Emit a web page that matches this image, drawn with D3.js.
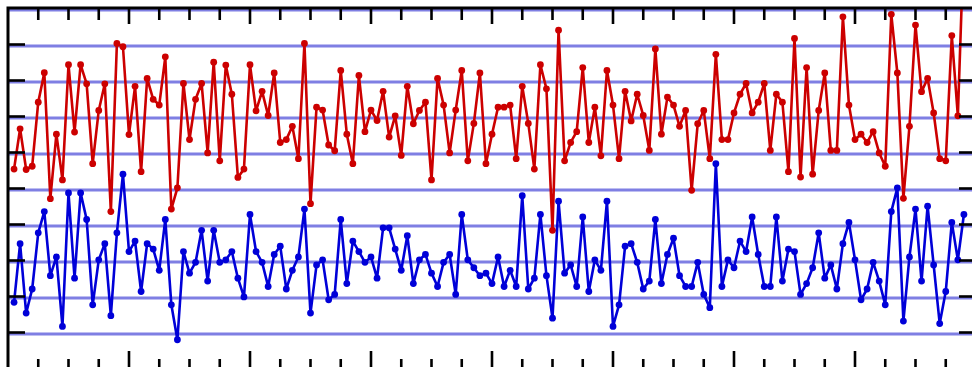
<!DOCTYPE html>
<html>
<head>
<meta charset="utf-8">
<script src="https://cdn.jsdelivr.net/npm/d3@7"></script>
<style>
  html, body { margin: 0; padding: 0; background: #fff; overflow: hidden; }
  svg { display: block; }
</style>
</head>
<body>
<div id="chart"></div>
<script>
// Two series, one point per step (1..158)
const redValues = [
  5.58, 6.70, 5.57, 5.66, 7.44, 8.26, 4.76, 6.55, 5.28, 8.48,
  6.61, 8.48, 7.95, 5.73, 7.21, 7.95, 4.40, 9.07, 8.98, 6.54,
  7.88, 5.51, 8.10, 7.52, 7.36, 8.70, 4.47, 5.06, 7.96, 6.40,
  7.52, 7.96, 6.03, 8.55, 5.81, 8.47, 7.66, 5.35, 5.58, 8.48,
  7.20, 7.74, 7.07, 8.25, 6.32, 6.40, 6.77, 5.87, 9.07, 4.62,
  7.30, 7.22, 6.25, 6.09, 8.32, 6.55, 5.73, 8.18, 6.62, 7.22,
  6.93, 7.74, 6.47, 7.06, 5.96, 7.88, 6.84, 7.21, 7.44, 5.28,
  8.10, 7.36, 6.03, 7.22, 8.32, 5.81, 6.85, 8.25, 5.73, 6.55,
  7.30, 7.30, 7.36, 5.87, 7.88, 6.85, 5.58, 8.48, 7.81, 3.88,
  9.44, 5.81, 6.32, 6.62, 8.40, 6.32, 7.30, 5.95, 8.32, 7.36,
  5.87, 7.74, 6.92, 7.66, 7.07, 6.10, 8.92, 6.55, 7.58, 7.36,
  6.77, 7.21, 4.99, 6.84, 7.21, 5.87, 8.77, 6.40, 6.40, 7.14,
  7.66, 7.96, 7.14, 7.44, 7.96, 6.10, 7.66, 7.44, 5.51, 9.21,
  5.36, 8.40, 5.44, 7.21, 8.25, 6.10, 6.10, 9.81, 7.36, 6.40,
  6.55, 6.32, 6.62, 6.03, 5.66, 9.88, 8.25, 4.77, 6.77, 9.58,
  7.73, 8.10, 7.14, 5.87, 5.81, 9.29, 7.06, 12.0
];

const blueValues = [
  1.88, 3.51, 1.58, 2.25, 3.81, 4.40, 2.62, 3.14, 1.21, 4.92,
  2.55, 4.92, 4.18, 1.81, 3.06, 3.51, 1.51, 3.81, 5.44, 3.29,
  3.58, 2.18, 3.51, 3.36, 2.77, 4.18, 1.81, 0.84, 3.29, 2.69,
  2.99, 3.88, 2.47, 3.88, 2.99, 3.06, 3.29, 2.55, 2.03, 4.32,
  3.29, 2.99, 2.32, 3.21, 3.44, 2.25, 2.77, 3.14, 4.47, 1.58,
  2.92, 3.06, 1.95, 2.10, 4.18, 2.40, 3.58, 3.29, 2.99, 3.14,
  2.55, 3.95, 3.95, 3.36, 2.77, 3.73, 2.40, 3.06, 3.21, 2.69,
  2.32, 2.99, 3.21, 2.10, 4.32, 3.06, 2.84, 2.62, 2.69, 2.40,
  3.14, 2.32, 2.77, 2.32, 4.84, 2.25, 2.55, 4.32, 2.62, 1.44,
  4.69, 2.69, 2.92, 2.32, 4.25, 2.18, 3.06, 2.77, 4.69, 1.21,
  1.81, 3.44, 3.51, 2.99, 2.25, 2.47, 4.18, 2.40, 3.21, 3.66,
  2.62, 2.32, 2.32, 2.99, 2.10, 1.73, 5.73, 2.32, 3.06, 2.84,
  3.58, 3.29, 4.25, 3.21, 2.32, 2.32, 4.25, 2.47, 3.36, 3.29,
  2.10, 2.40, 2.84, 3.81, 2.55, 2.92, 2.25, 3.51, 4.10, 3.06,
  1.95, 2.25, 2.99, 2.47, 1.81, 4.40, 5.06, 1.36, 3.14, 4.47,
  2.47, 4.55, 2.92, 1.29, 2.18, 4.10, 3.06, 4.32
];

const xDomain = [0, 160];
const yDomain = [0, 10];
const yGridValues = d3.range(0, 11, 1);
const xMajorTicks = d3.range(0, 161, 20);
const xMinorTicks = d3.range(0, 161, 5);

const width = 972;
const height = 367;
const plot = { left: 8, top: 8, right: 976, bottom: 369 };

const gridColor = '#7f7fe3';
const redColor = '#cc0000';
const blueColor = '#0000d8';

const svg = d3.select('#chart')
  .append('svg')
  .attr('width', width)
  .attr('height', height);

const x = d3.scaleLinear().domain(xDomain).range([plot.left, plot.right]);
const y = d3.scaleLinear().domain(yDomain).range([370, 10]);

svg.append('clipPath')
  .attr('id', 'plot-clip')
  .append('rect')
  .attr('x', plot.left)
  .attr('y', plot.top)
  .attr('width', plot.right - plot.left)
  .attr('height', plot.bottom - plot.top);

// Horizontal grid
svg.append('g')
  .selectAll('line')
  .data(yGridValues)
  .join('line')
  .attr('x1', plot.left)
  .attr('x2', plot.right)
  .attr('y1', d => y(d))
  .attr('y2', d => y(d))
  .attr('stroke', gridColor)
  .attr('stroke-width', 3);

// Series
const series = [
  { values: redValues, color: redColor },
  { values: blueValues, color: blueColor }
];

const line = d3.line()
  .x((d, i) => x(i + 1))
  .y(d => y(d));

const marks = svg.append('g').attr('clip-path', 'url(#plot-clip)');

series.forEach(s => {
  marks.append('path')
    .datum(s.values)
    .attr('fill', 'none')
    .attr('stroke', s.color)
    .attr('stroke-width', 2.6)
    .attr('stroke-linejoin', 'round')
    .attr('d', line);

  marks.append('g')
    .selectAll('circle')
    .data(s.values)
    .join('circle')
    .attr('cx', (d, i) => x(i + 1))
    .attr('cy', d => y(d))
    .attr('r', 3.4)
    .attr('fill', s.color);
});

// Ticks: left/right on every grid value, top/bottom minor + major
const ticks = svg.append('g')
  .attr('stroke', '#000')
  .attr('stroke-width', 2.6);

ticks.selectAll('.ytick-l')
  .data(yGridValues.slice(1, -1))
  .join('line')
  .attr('x1', plot.left)
  .attr('x2', plot.left + 17)
  .attr('y1', d => y(d) - 1.5)
  .attr('y2', d => y(d) - 1.5);

ticks.selectAll('.ytick-r')
  .data(yGridValues.slice(1, -1))
  .join('line')
  .attr('x1', plot.right - 17)
  .attr('x2', plot.right)
  .attr('y1', d => y(d) - 1.5)
  .attr('y2', d => y(d) - 1.5);

ticks.selectAll('.xtick-t')
  .data(xMinorTicks.slice(1, -1))
  .join('line')
  .attr('x1', d => x(d))
  .attr('x2', d => x(d))
  .attr('y1', plot.top)
  .attr('y2', d => plot.top + (d % 20 === 0 ? 16 : 12));

ticks.selectAll('.xtick-b')
  .data(xMinorTicks.slice(1, -1))
  .join('line')
  .attr('x1', d => x(d))
  .attr('x2', d => x(d))
  .attr('y1', plot.bottom)
  .attr('y2', d => plot.bottom - (d % 20 === 0 ? 18 : 10));

// Frame
svg.append('rect')
  .attr('x', plot.left)
  .attr('y', plot.top)
  .attr('width', plot.right - plot.left)
  .attr('height', plot.bottom - plot.top)
  .attr('fill', 'none')
  .attr('stroke', '#000')
  .attr('stroke-width', 3);
</script>
</body>
</html>
